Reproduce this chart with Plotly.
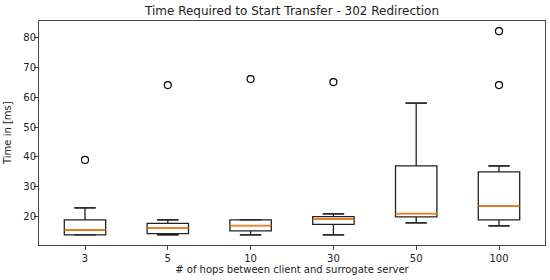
import plotly.graph_objects as go

hops = ['3', '5', '10', '30', '50', '100']
q1 = [14.0, 14.4, 15.3, 17.5, 20.0, 19.0]
medians = [15.6, 16.2, 17.1, 19.2, 21.1, 23.6]
q3 = [19.0, 17.8, 19.0, 20.1, 37.0, 35.0]
lower_whisker = [14, 14, 14, 14, 18, 17]
upper_whisker = [23, 19, 19, 21, 58, 37]
outlier_hops = ['3', '5', '10', '30', '100', '100']
outlier_values = [39, 64, 66, 65, 64, 82]

box_color = '#222222'
median_color = '#ff7f0e'
font = 'DejaVu Sans'

fig = go.Figure()

# box + whiskers from precomputed stats
fig.add_trace(go.Box(
    x=hops, q1=q1, median=medians, q3=q3,
    lowerfence=lower_whisker, upperfence=upper_whisker,
    width=0.5, fillcolor='rgba(0,0,0,0)',
    line=dict(color=box_color, width=1.3),
    boxpoints=False, showlegend=False,
))

# whisker caps (matplotlib style); line-ew length is 1.4 * size
for fence in (lower_whisker, upper_whisker):
    fig.add_trace(go.Scatter(
        x=hops, y=fence, mode='markers', showlegend=False,
        marker=dict(symbol='line-ew', size=15.5,
                    line=dict(color=box_color, width=1.3)),
    ))

# orange median lines
fig.add_trace(go.Scatter(
    x=hops, y=medians, mode='markers', showlegend=False,
    marker=dict(symbol='line-ew', size=29.5,
                line=dict(color=median_color, width=1.4)),
))

# fliers
fig.add_trace(go.Scatter(
    x=outlier_hops, y=outlier_values, mode='markers', showlegend=False,
    marker=dict(symbol='circle-open', size=7,
                line=dict(color='black', width=1.2), color='black'),
))

fig.update_layout(
    width=550, height=280,
    margin=dict(l=39, r=5, t=21, b=35),
    paper_bgcolor='white', plot_bgcolor='white',
    font=dict(family=font, size=10, color='#222222'),
    title=dict(text='Time Required to Start Transfer - 302 Redirection',
               x=(39 + 545) / 2 / 550, xanchor='center',
               y=1 - 11 / 280, yanchor='middle',
               font=dict(family=font, size=12, color='#222222')),
)
# y title as annotation so it sits left of the pulled-in tick labels
fig.add_annotation(
    text='Time in [ms]', textangle=-90, showarrow=False,
    xref='paper', yref='paper', x=0, y=0.5,
    xanchor='center', yanchor='middle', xshift=-32,
    font=dict(size=10),
)
fig.update_xaxes(
    type='category', categoryorder='array', categoryarray=hops,
    showgrid=False, zeroline=False, automargin=False,
    showline=True, mirror=True, linecolor='#444444', linewidth=1,
    ticks='outside', ticklen=4, tickcolor='#444444',
    title=dict(text='# of hops between client and surrogate server',
               standoff=0, font=dict(size=10)),
)
fig.update_yaxes(
    range=[10.6, 85.4], tickvals=[20, 30, 40, 50, 60, 70, 80],
    showgrid=False, zeroline=False, automargin=False,
    showline=True, mirror=True, linecolor='#444444', linewidth=1,
    ticks='outside', ticklen=4, tickcolor='#444444',
    ticklabelstandoff=-4,
)

# page body has a default 8px margin; remove it so the figure sits at 0,0
fig.write_html('out.html', config={'displayModeBar': False},
               post_script="document.body.style.margin='0';")
